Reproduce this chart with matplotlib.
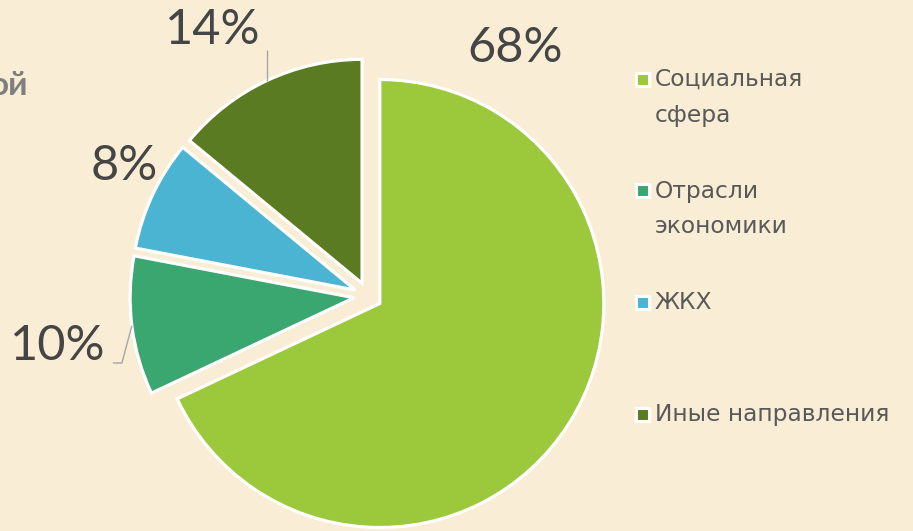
import numpy as np
import matplotlib.pyplot as plt
from matplotlib.patches import Rectangle

plt.rcParams['font.family'] = ['Lato', 'DejaVu Sans']

categories = ['Социальная\nсфера', 'Отрасли\nэкономики', 'ЖКХ', 'Иные направления']
shares = [68, 10, 8, 14]
colors = ['#9BC93B', '#39A76F', '#4BB4D2', '#5B7B22']

W, H = 913, 531
fig = plt.figure(figsize=(W / 100, H / 100), dpi=100)
fig.patch.set_facecolor('#F9EED5')
ax = fig.add_axes([0, 0, 1, 1])

wedges, _ = ax.pie(shares, colors=colors, startangle=90, counterclock=False,
                   radius=224, center=(368, 235), explode=[14] * 4,
                   wedgeprops=dict(edgecolor='white', linewidth=2.3),
                   frame=True)
ax.set_xlim(0, W)
ax.set_ylim(0, H)
ax.set_aspect('equal')
ax.axis('off')


def arc_mid(w):
    t = np.deg2rad((w.theta1 + w.theta2) / 2)
    cx, cy = w.center
    return cx + w.r * np.cos(t), cy + w.r * np.sin(t)


# label positions (image px) for each slice
label_pos = [(515, H - 48), (58, H - 346), (124, H - 166), (213, H - 30)]
pct_style = dict(fontsize=35, color='#454545', ha='center', va='center')
for w, s, (lx, ly) in zip(wedges, shares, label_pos):
    ax.text(lx, ly, f'{s}%', **pct_style)

# leader lines
line_kw = dict(color='#A6A6A6', lw=1.0, solid_capstyle='butt')
mx, my = arc_mid(wedges[3])
ax.plot([mx, mx], [my, H - 50], **line_kw)
mx, my = arc_mid(wedges[1])
ax.plot([mx, mx - 10, mx - 19], [my, H - 363, H - 363], **line_kw)

# legend
for i, (lab, c) in enumerate(zip(categories, colors)):
    y = H - 79 - i * 111.7
    ax.add_patch(Rectangle((636, y - 6.5), 13, 13, facecolor=c,
                           edgecolor='white', lw=2.2))
    ax.text(655, y + 11, lab, fontsize=16.8, color='#595959', ha='left',
            va='top', linespacing=1.7, family='DejaVu Sans')

# clipped title fragment
ax.text(28, H - 95, 'ой', fontsize=24, fontweight='bold', color='#7F7F7F',
        ha='right', va='baseline')

fig.savefig('out.png', dpi=100, facecolor=fig.get_facecolor())
